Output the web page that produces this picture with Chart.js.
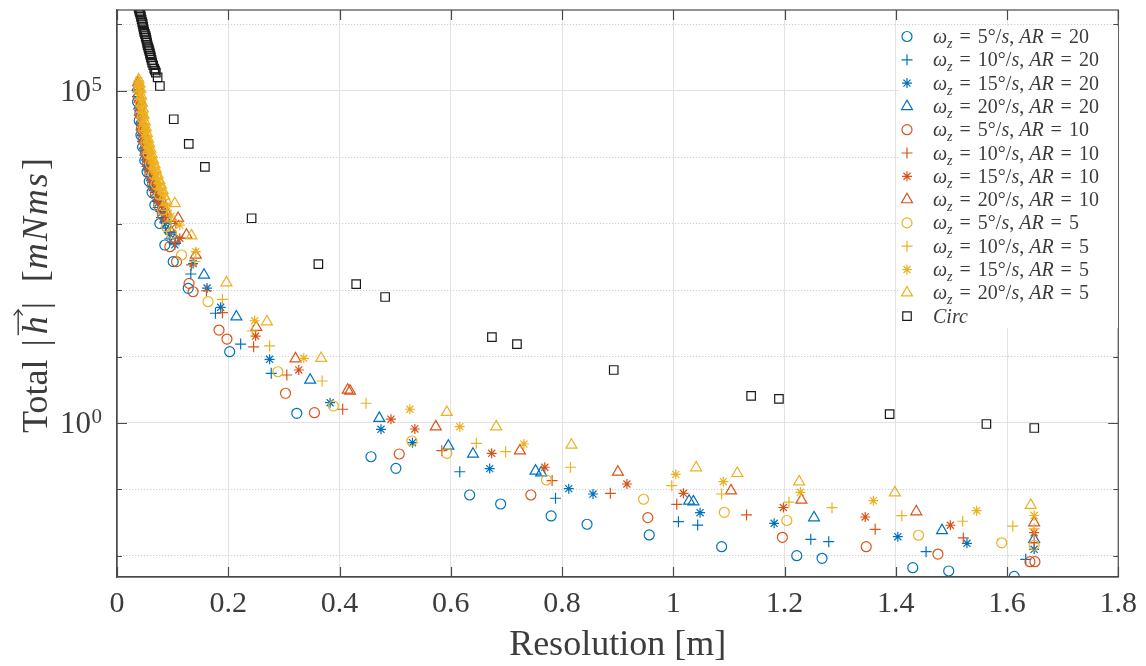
<!DOCTYPE html>
<html><head><meta charset="utf-8">
<script src="https://cdn.jsdelivr.net/npm/chart.js@4.4.0/dist/chart.umd.min.js"></script>
<style>html,body{margin:0;padding:0;background:#fff;}#wrap{width:1146px;height:666px;}</style>
</head><body><div id="wrap"><canvas id="c" width="1146" height="666"></canvas></div>
<script>
// ---------- data ----------
const xTicks = [0, 0.2, 0.4, 0.6, 0.8, 1, 1.2, 1.4, 1.6, 1.8];
const yDecades = [-2, -1, 0, 1, 2, 3, 4, 5, 6];
const yLabelled = [0, 5];
const omegaVals = ['5', '10', '15', '20'];
const arVals = ['20', '10', '5'];

// AR = 20
const o20 = [[0.037,6.76e4],[0.040,3.55e4],[0.043,2.14e4],[0.046,1.41e4],[0.050,8.9e3],[0.054,6.0e3],[0.058,4.3e3],[0.063,2.95e3],[0.068,1.9e3],[0.077,1.0e3],[0.086,4.75e2],[0.101,2.67e2],[0.128,1.06e2],[0.2026,11.8],[0.3232,1.40],[0.4566,0.311],[0.5014,0.208],[0.634,0.0827],[0.6897,0.0605],[0.7804,0.040],[0.845,0.030],[0.9568,0.0207],[1.087,0.0138],[1.222,0.0101],[1.2675,0.00923],[1.4306,0.00667],[1.4952,0.00595],[1.613,0.00492]];
const p20 = [[0.037,8.1e4],[0.040,4.27e4],[0.043,2.57e4],[0.046,1.7e4],[0.050,1.07e4],[0.054,7.2e3],[0.058,5.1e3],[0.063,3.55e3],[0.068,2.5e3],[0.074,1.74e3],[0.080,1.23e3],[0.087,851],[0.095,589],[0.1327,174],[0.177,44.7],[0.2223,15.4],[0.2773,5.59],[0.6162,0.185],[0.7883,0.0738],[1.0093,0.0328],[1.0439,0.0292],[1.2472,0.0178],[1.2795,0.0164],[1.4545,0.0116],[1.6337,0.0089]];
const a20 = [[0.037,9.55e4],[0.040,5.0e4],[0.043,3.0e4],[0.046,2.0e4],[0.050,1.26e4],[0.054,8.5e3],[0.058,6.0e3],[0.063,4.17e3],[0.068,2.95e3],[0.074,2.04e3],[0.080,1.45e3],[0.087,1.0e3],[0.095,692],[0.104,479],[0.1368,250],[0.1619,107],[0.1864,55],[0.2743,9.08],[0.3831,2.02],[0.4745,0.804],[0.5312,0.506],[0.67,0.206],[0.8121,0.103],[0.8557,0.0855],[1.0482,0.0448],[1.1814,0.031],[1.4037,0.0195],[1.528,0.0155],[1.6488,0.0126]];
const t20 = [[0.037,1.12e5],[0.040,5.9e4],[0.043,3.55e4],[0.046,2.34e4],[0.050,1.48e4],[0.054,1.0e4],[0.058,7.1e3],[0.063,4.9e3],[0.068,3.47e3],[0.074,2.4e3],[0.080,1.7e3],[0.087,1.17e3],[0.095,813],[0.104,562],[0.1565,168],[0.2146,39.6],[0.3473,4.43],[0.4715,1.18],[0.5957,0.451],[0.64,0.342],[0.7524,0.19],[0.7625,0.179],[1.0285,0.0671],[1.0362,0.0656],[1.2531,0.0377],[1.4832,0.0242],[1.6488,0.0178]];
// AR = 10
const o10 = [[0.038,7.9e4],[0.041,4.47e4],[0.044,2.69e4],[0.047,1.78e4],[0.051,1.15e4],[0.055,7.8e3],[0.059,5.5e3],[0.064,3.8e3],[0.069,2.7e3],[0.075,1.86e3],[0.0819,1.34e3],[0.095,448],[0.107,267],[0.1296,126],[0.1368,94.2],[0.1834,25],[0.1977,18.3],[0.303,2.8],[0.355,1.43],[0.5074,0.342],[0.744,0.0827],[0.9543,0.0377],[1.1962,0.0191],[1.3469,0.0138],[1.4758,0.0107],[1.6413,0.0082],[1.6502,0.0082]];
const p10 = [[0.038,9.55e4],[0.041,5.4e4],[0.044,3.24e4],[0.047,2.14e4],[0.051,1.38e4],[0.055,9.3e3],[0.059,6.6e3],[0.064,4.57e3],[0.069,3.24e3],[0.075,2.24e3],[0.081,1.58e3],[0.088,1.1e3],[0.096,759],[0.105,525],[0.1339,238],[0.1608,97.5],[0.1895,45.6],[0.2456,14],[0.3053,5.27],[0.4057,1.61],[0.5839,0.383],[0.7822,0.136],[0.8869,0.0877],[1.0063,0.0599],[1.1318,0.0414],[1.363,0.0252],[1.5215,0.0187],[1.6488,0.0157]];
const a10 = [[0.038,1.12e5],[0.041,6.3e4],[0.044,3.8e4],[0.047,2.51e4],[0.051,1.62e4],[0.055,1.1e4],[0.059,7.8e3],[0.064,5.4e3],[0.069,3.8e3],[0.075,2.63e3],[0.081,1.86e3],[0.088,1.29e3],[0.1058,1.0e3],[0.1129,602],[0.2492,20.3],[0.3268,6.27],[0.4925,1.14],[0.5355,0.813],[0.6736,0.35],[0.7691,0.216],[0.9167,0.121],[1.0183,0.0877],[1.1981,0.0536],[1.3451,0.0386],[1.4982,0.029],[1.6488,0.0224]];
const t10 = [[0.038,1.32e5],[0.041,7.4e4],[0.044,4.47e4],[0.047,2.95e4],[0.051,1.9e4],[0.055,1.29e4],[0.059,9.1e3],[0.064,6.3e3],[0.069,4.47e3],[0.075,3.1e3],[0.081,2.19e3],[0.088,1.51e3],[0.1099,1.2e3],[0.125,671],[0.1416,336],[0.2505,27.5],[0.3209,9.27],[0.4147,3.13],[0.419,3.03],[0.5731,0.879],[0.7243,0.383],[0.9005,0.183],[1.1038,0.0959],[1.2304,0.0695],[1.4369,0.0464],[1.6488,0.0317]];
// AR = 5
const o5 = [[0.039,1.0e5],[0.042,6.3e4],[0.045,3.9e4],[0.048,2.57e4],[0.052,1.66e4],[0.056,1.12e4],[0.060,7.9e3],[0.065,5.5e3],[0.070,3.9e3],[0.076,2.7e3],[0.082,1.6e3],[0.0891,895],[0.0981,713],[0.116,336],[0.1637,66.7],[0.2892,5.9],[0.389,1.8],[0.5301,0.536],[0.5929,0.35],[0.7721,0.139],[0.9466,0.0713],[1.0918,0.0454],[1.2042,0.0342],[1.441,0.0205],[1.5905,0.0158],[1.6488,0.0145]];
const p5 = [[0.039,1.2e5],[0.0405,9.6e4],[0.042,7.6e4],[0.0435,5.9e4],[0.045,4.68e4],[0.048,3.1e4],[0.050,2.5e4],[0.052,2.0e4],[0.054,1.65e4],[0.056,1.35e4],[0.058,1.13e4],[0.060,9.5e3],[0.065,6.6e3],[0.070,4.68e3],[0.076,3.24e3],[0.082,2.29e3],[0.089,1.58e3],[0.097,1.1e3],[0.1398,267],[0.1895,72.4],[0.2433,24.2],[0.2743,14.4],[0.3688,4.28],[0.4477,1.98],[0.6459,0.495],[0.6986,0.37],[0.8152,0.216],[0.9973,0.114],[1.087,0.0855],[1.208,0.0644],[1.2854,0.0532],[1.4109,0.0404],[1.5203,0.0333],[1.6104,0.0282],[1.6488,0.0255]];
const a5 = [[0.039,1.41e5],[0.0405,1.12e5],[0.042,8.9e4],[0.0435,7.0e4],[0.045,5.5e4],[0.0465,4.5e4],[0.048,3.63e4],[0.050,2.9e4],[0.052,2.34e4],[0.054,1.9e4],[0.056,1.58e4],[0.058,1.33e4],[0.060,1.12e4],[0.0625,9.3e3],[0.065,7.8e3],[0.0675,6.5e3],[0.070,5.5e3],[0.073,4.6e3],[0.076,3.8e3],[0.079,3.2e3],[0.082,2.7e3],[0.089,1.86e3],[0.097,1.29e3],[0.1129,949],[0.1416,377],[0.2474,34.5],[0.3358,9.4],[0.5265,1.61],[0.6162,0.879],[0.7315,0.483],[1.0045,0.169],[1.09,0.131],[1.2286,0.0908],[1.3598,0.0679],[1.5454,0.048],[1.6488,0.0406]];
const t5 = [[0.039,1.45e5],[0.0405,1.25e5],[0.042,1.05e5],[0.0435,8.3e4],[0.045,6.5e4],[0.0465,5.3e4],[0.048,4.27e4],[0.050,3.4e4],[0.052,2.75e4],[0.054,2.25e4],[0.056,1.86e4],[0.058,1.58e4],[0.060,1.32e4],[0.0625,1.1e4],[0.065,9.1e3],[0.0675,7.7e3],[0.070,6.5e3],[0.073,5.4e3],[0.076,4.47e3],[0.079,3.8e3],[0.082,3.16e3],[0.085,2.6e3],[0.089,2.19e3],[0.104,2.0e3],[0.1339,656],[0.1967,129],[0.2695,33.4],[0.367,9.4],[0.5929,1.45],[0.6818,0.879],[0.817,0.467],[1.0411,0.213],[1.1151,0.175],[1.2263,0.131],[1.3984,0.0895],[1.6427,0.058]];
// Circ
const circ = [[0.0385,1.82e6],[0.0394,1.70e6],[0.0403,1.58e6],[0.0412,1.51e6],[0.0421,1.41e6],[0.043,1.29e6],[0.0442,1.17e6],[0.0454,1.07e6],[0.0462,1.0e6],[0.0471,9.1e5],[0.048,8.3e5],[0.0489,7.6e5],[0.0502,7.1e5],[0.0515,6.6e5],[0.0523,6.2e5],[0.0532,5.75e5],[0.0541,5.25e5],[0.055,4.8e5],[0.0562,4.47e5],[0.0574,4.17e5],[0.0583,3.9e5],[0.0592,3.63e5],[0.0601,3.39e5],[0.061,3.16e5],[0.0622,2.88e5],[0.0633,2.63e5],[0.0651,2.4e5],[0.0669,2.14e5],[0.0684,2.0e5],[0.0699,1.86e5],[0.073,1.58e5],[0.0771,1.17e5],[0.102,3.7e4],[0.129,1.58e4],[0.158,7.1e3],[0.242,1.2e3],[0.362,245],[0.430,123],[0.482,78.5],[0.674,19.6],[0.719,15.4],[0.893,6.27],[1.140,2.55],[1.190,2.30],[1.389,1.36],[1.563,0.966],[1.649,0.841]];

const seriesData = [o20, p20, a20, t20, o10, p10, a10, t10, o5, p5, a5, t5, circ];

// ---------- styles ----------
const FONT = '"Liberation Serif", "DejaVu Serif", serif';
const TEXT = '#3c3c3c';
const AXIS = '#4a4a4a';
const colors = ['#0072BD', '#D95319', '#EDB120'];
const markerStyles = ['circle', 'crossp', 'star', 'triangle'];
const chartStyle = {circle:'circle', crossp:'cross', star:'star', triangle:'triangle', rect:'rect'};
const radius = {circle: 5, crossp: 5.5, star: 5, triangle: 6.3, rect: 6};

const datasets = seriesData.map((d, i) => {
  const isCirc = i === 12;
  const st = isCirc ? 'rect' : markerStyles[i % 4];
  const col = isCirc ? '#1a1a1a' : colors[Math.floor(i / 4)];
  return {
    label: isCirc ? 'Circ' : ('w' + omegaVals[i % 4] + ' AR' + arVals[Math.floor(i / 4)]),
    data: d.map(([x, y]) => ({x, y})),
    pointStyle: chartStyle[st], pointRadius: radius[st], pointHoverRadius: radius[st],
    pointBorderColor: col, pointBackgroundColor: 'rgba(0,0,0,0)', pointBorderWidth: 1.2,
    showLine: false, order: 13 - i, clip: 0,
    _st: st, _col: col
  };
});

function drawMarker(ctx, st, x, y, col) {
  const r = radius[st];
  ctx.save(); ctx.strokeStyle = col; ctx.lineWidth = 1.2; ctx.beginPath();
  if (st === 'circle') { ctx.arc(x, y, r, 0, Math.PI * 2); }
  else if (st === 'crossp') { ctx.moveTo(x - r, y); ctx.lineTo(x + r, y); ctx.moveTo(x, y - r); ctx.lineTo(x, y + r); }
  else if (st === 'star') { ctx.moveTo(x - r, y); ctx.lineTo(x + r, y); ctx.moveTo(x, y - r); ctx.lineTo(x, y + r);
    const d = r * Math.SQRT1_2; ctx.moveTo(x - d, y - d); ctx.lineTo(x + d, y + d); ctx.moveTo(x - d, y + d); ctx.lineTo(x + d, y - d); }
  else if (st === 'triangle') { let a = 0; ctx.moveTo(x + Math.sin(a) * r, y - Math.cos(a) * r);
    a += 2 * Math.PI / 3; ctx.lineTo(x + Math.sin(a) * r, y - Math.cos(a) * r);
    a += 2 * Math.PI / 3; ctx.lineTo(x + Math.sin(a) * r, y - Math.cos(a) * r); ctx.closePath(); }
  else if (st === 'rect') { const s = r * Math.SQRT1_2; ctx.rect(x - s, y - s, 2 * s, 2 * s); }
  ctx.stroke(); ctx.restore();
}

function drawRuns(ctx, runs, x, y, size) {
  let cx = x; const pos = [];
  for (const r of runs) {
    cx += r.g || 0;
    const s = r.sub ? size * 0.7 : size;
    ctx.font = (r.i ? 'italic ' : '') + s + 'px ' + FONT;
    const dy = r.sub ? size * 0.25 : 0;
    ctx.fillText(r.t, cx, y + dy);
    const w = ctx.measureText(r.t).width;
    pos.push([cx, w]);
    cx += w;
  }
  return pos;
}

const deco = {
  id: 'deco',
  afterDraw(chart) {
    const ctx = chart.ctx, a = chart.chartArea, xs = chart.scales.x, ys = chart.scales.y;
    ctx.save();
    // frame
    ctx.strokeStyle = AXIS; ctx.lineWidth = 1.2;
    ctx.strokeRect(a.left, a.top, a.right - a.left, a.bottom - a.top);
    // inward ticks
    ctx.beginPath();
    xTicks.forEach(v => { const px = Math.round(xs.getPixelForValue(v)) + 0.5;
      ctx.moveTo(px, a.bottom); ctx.lineTo(px, a.bottom - 10); ctx.moveTo(px, a.top); ctx.lineTo(px, a.top + 10); });
    yDecades.forEach(e => { const py = Math.round(ys.getPixelForValue(Math.pow(10, e))) + 0.5;
      const L = yLabelled.includes(e) ? 10 : 5;
      ctx.moveTo(a.left, py); ctx.lineTo(a.left + L, py); ctx.moveTo(a.right, py); ctx.lineTo(a.right - L, py); });
    ctx.stroke();
    // y tick labels 10^e
    ctx.fillStyle = TEXT; ctx.textBaseline = 'alphabetic';
    yLabelled.forEach(e => { const py = ys.getPixelForValue(Math.pow(10, e));
      ctx.font = '31px ' + FONT; ctx.textAlign = 'right'; ctx.fillText('10', 91, py + 10);
      ctx.font = '21px ' + FONT; ctx.textAlign = 'left'; ctx.fillText(String(e), 91.5, py); });
    // x title
    ctx.font = '36px ' + FONT; ctx.textAlign = 'center';
    ctx.fillText('Resolution [m]', (a.left + a.right) / 2, 655);
    // y title (rotated)
    ctx.save(); ctx.translate(47, 433); ctx.rotate(-Math.PI / 2); ctx.textAlign = 'left';
    const S = 36;
    const p = drawRuns(ctx, [{t:'Total'}, {t:'|', g:13}, {t:'h', i:1, g:5}, {t:'|', g:7}, {t:'[', g:20},
                              {t:'m', i:1, g:1}, {t:'N', i:1, g:2}, {t:'m', i:1, g:2}, {t:'s', i:1, g:2}, {t:']', g:3}], 0, 0, S);
    const [hx, hw] = p[2]; const ay = -S * 0.8;
    ctx.strokeStyle = TEXT; ctx.lineWidth = 1.4;
    ctx.beginPath(); ctx.moveTo(hx - 1, ay); ctx.lineTo(hx + hw + 6, ay);
    ctx.moveTo(hx + hw + 1, ay - 4.5); ctx.lineTo(hx + hw + 6.5, ay); ctx.lineTo(hx + hw + 1, ay + 4.5); ctx.stroke();
    ctx.restore();
    // legend
    ctx.fillStyle = '#ffffff'; ctx.fillRect(899, 26, 219, 302);
    ctx.textAlign = 'left'; ctx.fillStyle = TEXT;
    datasets.forEach((ds, i) => {
      const yc = 36.5 + i * 23.3;
      drawMarker(ctx, ds._st, 907, yc, ds._col);
      ctx.fillStyle = TEXT;
      let runs;
      if (i === 12) runs = [{t:'Circ', i:1}];
      else runs = [{t:'ω', i:1}, {t:'z', i:1, sub:1}, {t:'=', g:7}, {t:omegaVals[i % 4], g:7}, {t:'°'}, {t:'/'}, {t:'s', i:1}, {t:','},
                   {t:'AR', i:1, g:5}, {t:'=', g:7}, {t:arVals[Math.floor(i / 4)], g:7}];
      drawRuns(ctx, runs, 933, yc + 6.5, 20);
    });
    ctx.restore();
  }
};

const isMajorY = v => yLabelled.some(e => Math.abs(Math.log10(v) - e) < 1e-6);

new Chart(document.getElementById('c'), {
  type: 'scatter',
  data: {datasets},
  options: {
    responsive: false, animation: false, devicePixelRatio: 1,
    layout: {padding: {left: 0, top: 10, right: 25, bottom: 0}},
    plugins: {legend: {display: false}, tooltip: {enabled: false}},
    scales: {
      x: {
        type: 'linear', min: 0, max: 1.8, bounds: 'data',
        afterBuildTicks: s => { s.ticks = xTicks.map(v => ({value: v})); },
        afterFit: s => { s.height = 89; },
        grid: {color: '#e2e2e2', lineWidth: 1, drawTicks: false},
        border: {display: true, color: AXIS, width: 1.2},
        ticks: {font: {family: FONT, size: 30}, color: TEXT, padding: 9, maxRotation: 0, autoSkip: false,
                callback: v => String(Math.round(v * 10) / 10)}
      },
      y: {
        type: 'logarithmic', min: 0.00483, max: 1.626e6, bounds: 'data',
        afterBuildTicks: s => { s.ticks = yDecades.map(e => ({value: Math.pow(10, e)})); },
        afterFit: s => { s.width = 117; },
        grid: {drawTicks: false, lineWidth: 1,
               color: c => (c.tick && !isMajorY(c.tick.value)) ? '#c4c4c4' : '#e2e2e2'},
        border: {display: true, color: AXIS, width: 1.2,
                 dash: c => (c.tick && !isMajorY(c.tick.value)) ? [1, 2] : []},
        ticks: {display: false}
      }
    }
  },
  plugins: [deco]
});
</script></body></html>
